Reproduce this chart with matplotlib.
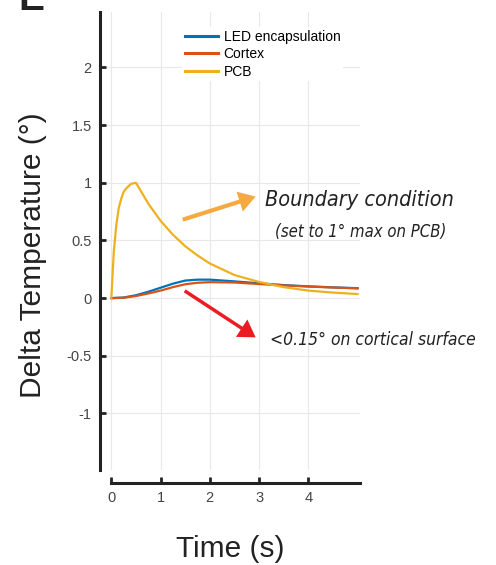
import matplotlib
matplotlib.use("Agg")
import matplotlib.pyplot as plt

plt.rcParams['font.family'] = ['Liberation Sans', 'DejaVu Sans']

# Data
t_pcb = [0, 0.05, 0.1, 0.15, 0.2, 0.25, 0.3, 0.4, 0.5, 0.75, 1.0, 1.25, 1.5, 1.75,
         2.0, 2.5, 3.0, 3.5, 4.0, 4.5, 5.0]
pcb = [0, 0.4, 0.63, 0.78, 0.86, 0.92, 0.95, 0.99, 1.0, 0.82, 0.67, 0.55, 0.45, 0.37,
       0.30, 0.20, 0.14, 0.095, 0.065, 0.048, 0.035]

t_slow = [0, 0.25, 0.5, 0.75, 1.0, 1.25, 1.5, 1.75, 2.0, 2.5, 3.0, 3.5, 4.0, 4.5, 5.0]
led = [0, 0.005, 0.025, 0.055, 0.09, 0.125, 0.152, 0.16, 0.16, 0.145, 0.128, 0.113,
       0.102, 0.093, 0.086]
cortex = [0, 0.003, 0.018, 0.04, 0.065, 0.095, 0.12, 0.133, 0.138, 0.135, 0.122, 0.11,
          0.1, 0.092, 0.084]

series_names = ["LED encapsulation", "Cortex", "PCB"]
series_colors = ["#0072BD", "#D95319", "#EDB120"]
x_ticks = [0, 1, 2, 3, 4]
y_ticks = [-1, -0.5, 0, 0.5, 1, 1.5, 2]
y_tick_labels = ["-1", "-0.5", "0", "0.5", "1", "1.5", "2"]

fig = plt.figure(figsize=(4.96, 5.65), dpi=100)
ax = fig.add_axes([100 / 496, 1 - 470 / 565, 260 / 496, 458 / 565])

ax.plot(t_slow, led, color=series_colors[0], lw=1.6, label=series_names[0])
ax.plot(t_slow, cortex, color=series_colors[1], lw=1.6, label=series_names[1])
ax.plot(t_pcb, pcb, color=series_colors[2], lw=1.6, label=series_names[2])

ax.set_xlim(-0.23, 5.05)
ax.set_ylim(-1.49, 2.48)
ax.set_xticks(x_ticks)
ax.set_yticks(y_ticks)
ax.set_yticklabels(y_tick_labels)
ax.grid(True, color="#e8e8e8", lw=0.8)
ax.set_axisbelow(True)

for side in ["top", "right"]:
    ax.spines[side].set_visible(False)
ax.spines["left"].set_linewidth(2.2)
ax.spines["left"].set_color("#222222")
ax.spines["bottom"].set_linewidth(2.2)
ax.spines["bottom"].set_color("#222222")
ax.spines["bottom"].set_position(("outward", 9))
ax.spines["bottom"].set_bounds(0, 5.05)
ax.tick_params(direction="in", length=4, width=2, colors="#222222",
               labelcolor="#444444", labelsize=10.5, pad=6)

ax.set_ylabel("Delta Temperature (°)", fontsize=21.5, color="#222222")
ax.yaxis.set_label_coords(-0.205, 0.47)
ax.set_xlabel("Time (s)", fontsize=21.5, color="#222222", labelpad=22)

leg = ax.legend(loc="upper left", bbox_to_anchor=(175 / 496, 1 - 20 / 565),
                bbox_transform=fig.transFigure, fontsize=10, frameon=True,
                handlelength=2.4, labelspacing=0.25, borderpad=0.2, handletextpad=0.4)
leg.get_frame().set_facecolor("white")
leg.get_frame().set_edgecolor("none")
leg.get_frame().set_alpha(1)
for line in leg.get_lines():
    line.set_linewidth(2.2)

# Annotations in a condensed italic face
ann = dict(family="DejaVu Sans", fontstretch="condensed", style="italic",
           ha="center", va="center", color="#222222", clip_on=False)
ax.text(5.04, 0.85, "Boundary condition", fontsize=15.5, **ann)
ax.text(5.06, 0.575, "(set to 1° max on PCB)", fontsize=12, **ann)
ax.text(5.32, -0.36, "<0.15° on cortical surface", fontsize=12.5, **ann)

ax.annotate("", xy=(2.93, 0.88), xytext=(1.45, 0.68),
            arrowprops=dict(facecolor="#F7A941", edgecolor="none", width=3,
                            headwidth=15, headlength=12))
ax.annotate("", xy=(2.93, -0.34), xytext=(1.49, 0.063),
            arrowprops=dict(facecolor="#EC1C24", edgecolor="none", width=2.5,
                            headwidth=15, headlength=12))

fig.text(18 / 496, 1.0, "E", fontsize=28, fontweight="bold", color="#222222",
         ha="left", va="center")

fig.savefig("out.png", dpi=100)
